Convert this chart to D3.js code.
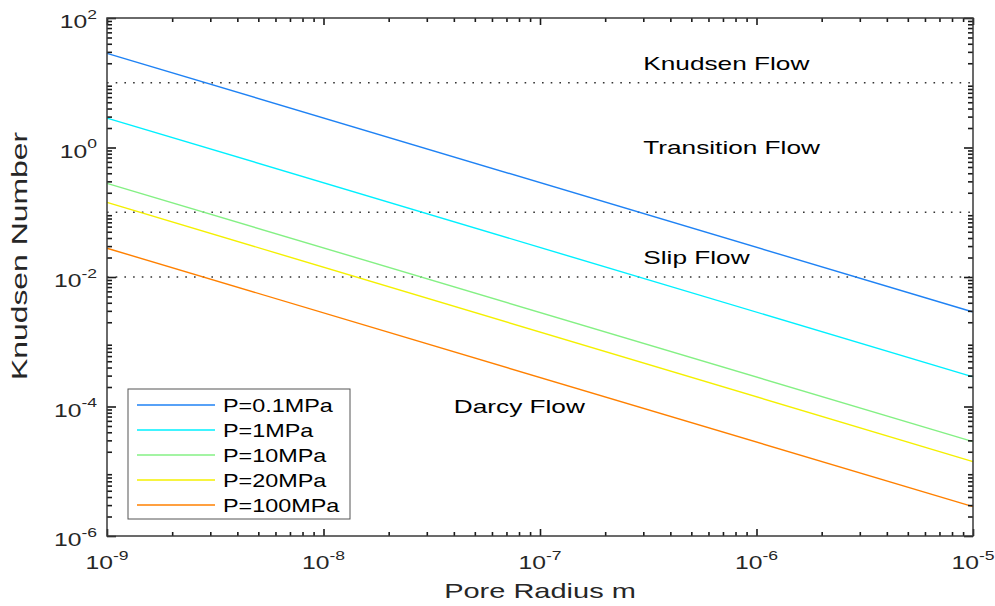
<!DOCTYPE html>
<html>
<head>
<meta charset="utf-8">
<script src="https://cdn.jsdelivr.net/npm/d3@7/dist/d3.min.js"></script>
<style>
  body { margin: 0; background: #fff; }
  text { font-family: "Liberation Sans", Arial, Helvetica, sans-serif; fill: #262626; }
</style>
</head>
<body>
<svg id="chart" width="995" height="606"></svg>
<script>
// Knudsen number vs pore radius for several gas pressures (log-log)
const seriesNames   = ["P=0.1MPa", "P=1MPa", "P=10MPa", "P=20MPa", "P=100MPa"];
const seriesColors  = ["#1f82f4", "#00f0ff", "#84f084", "#f4f000", "#ff8000"];
const radiusEnds    = [1e-9, 1e-5];                          // pore radius, m
const knAtSmallR    = [28.5, 2.85, 0.28, 0.142, 0.0278];      // Kn at r = 1e-9 m
const knAtLargeR    = [2.88e-3, 2.87e-4, 2.86e-5, 1.41e-5, 2.84e-6]; // Kn at r = 1e-5 m

// flow regime boundaries and labels
const regimeBounds  = [10, 0.1, 0.01];
const regimeNames   = ["Knudsen Flow", "Transition Flow", "Slip Flow", "Darcy Flow"];
const regimeLabelR  = [3e-7, 3e-7, 3e-7, 4e-8];
const regimeLabelKn = [20, 1, 0.02, 1e-4];

// axis ticks
const xMajorTicks = [1e-9, 1e-8, 1e-7, 1e-6, 1e-5];
const xTickExps   = ["-9", "-8", "-7", "-6", "-5"];
const yMajorTicks = [1e2, 1e0, 1e-2, 1e-4, 1e-6];
const yTickExps   = ["2", "0", "-2", "-4", "-6"];
const xLabel = "Pore Radius m";
const yLabel = "Knudsen Number";

const svg = d3.select("#chart");
const plot = { left: 107, right: 973, top: 18, bottom: 536 };

const x = d3.scaleLog().domain([1e-9, 1e-5]).range([plot.left, plot.right]);
const y = d3.scaleLog().domain([1e-6, 1e2]).range([plot.bottom, plot.top]);

// minor ticks: 2..9 within each decade
function minorTicks(lo, hi) {
  const out = [];
  for (let e = Math.round(Math.log10(lo)); e < Math.round(Math.log10(hi)); e++)
    for (let m = 2; m <= 9; m++) out.push(m * Math.pow(10, e));
  return out;
}
const xMinor = minorTicks(1e-9, 1e-5);
const yMinor = minorTicks(1e-6, 1e2);

// regime boundary lines (dotted)
svg.append("g").selectAll("line").data(regimeBounds).join("line")
  .attr("x1", plot.left).attr("x2", plot.right)
  .attr("y1", d => y(d)).attr("y2", d => y(d))
  .attr("stroke", "#333").attr("stroke-width", 1.3)
  .attr("stroke-dasharray", "1.6,7.1");

// data lines
const lineGen = d3.line().x(d => x(d[0])).y(d => y(d[1]));
svg.append("g").selectAll("path").data(seriesNames).join("path")
  .attr("d", (d, i) => lineGen([[radiusEnds[0], knAtSmallR[i]], [radiusEnds[1], knAtLargeR[i]]]))
  .attr("fill", "none")
  .attr("stroke", (d, i) => seriesColors[i])
  .attr("stroke-width", 1.4);

// axes with inward ticks on all four sides
function drawAxis(axisFn, scale, ticks, size, transform) {
  const g = svg.append("g").attr("transform", transform)
    .call(axisFn(scale).tickValues(ticks).tickSize(size).tickFormat(""));
  g.select(".domain").remove();
  g.selectAll(".tick line").attr("stroke", "#1a1a1a").attr("stroke-width", 1.6);
  return g;
}
drawAxis(d3.axisBottom, x, xMajorTicks, -7, `translate(0,${plot.bottom})`);
drawAxis(d3.axisBottom, x, xMinor, -4, `translate(0,${plot.bottom})`);
drawAxis(d3.axisTop, x, xMajorTicks, -7, `translate(0,${plot.top})`);
drawAxis(d3.axisTop, x, xMinor, -4, `translate(0,${plot.top})`);
drawAxis(d3.axisLeft, y, yMajorTicks, -9, `translate(${plot.left},0)`);
drawAxis(d3.axisLeft, y, yMinor, -5, `translate(${plot.left},0)`);
drawAxis(d3.axisRight, y, yMajorTicks, -9, `translate(${plot.right},0)`);
drawAxis(d3.axisRight, y, yMinor, -5, `translate(${plot.right},0)`);

// frame
svg.append("rect")
  .attr("x", plot.left).attr("y", plot.top)
  .attr("width", plot.right - plot.left).attr("height", plot.bottom - plot.top)
  .attr("fill", "none").attr("stroke", "#3a3a3a").attr("stroke-width", 1.5);

// power-of-ten tick label
function powerLabel(g, px, py, exp, anchor, sx) {
  const t = g.append("text")
    .attr("transform", `translate(${px},${py}) scale(${sx},1)`)
    .attr("text-anchor", anchor)
    .style("font-size", "19px");
  t.append("tspan").text("10");
  t.append("tspan").attr("dy", -9.5).style("font-size", "13.5px").text(exp);
}
const xl = svg.append("g");
xMajorTicks.forEach((v, i) => powerLabel(xl, x(v), 569, xTickExps[i], "middle", 1.3));
const yl = svg.append("g");
yMajorTicks.forEach((v, i) => powerLabel(yl, 97, y(v) + 10.3, yTickExps[i], "end", 1.3));

// axis titles
svg.append("text")
  .attr("transform", `translate(${(plot.left + plot.right) / 2},598) scale(1.45,1)`)
  .attr("text-anchor", "middle").style("font-size", "20px").text(xLabel);
svg.append("text")
  .attr("transform", `translate(27,256) rotate(-90) scale(1.45,1)`)
  .attr("text-anchor", "middle").style("font-size", "22px").text(yLabel);

// regime labels
svg.append("g").selectAll("text").data(regimeNames).join("text")
  .attr("transform", (d, i) => `translate(${x(regimeLabelR[i])},${y(regimeLabelKn[i]) + 6.8}) scale(1.38,1)`)
  .style("font-size", "19px").style("fill", "#000")
  .text(d => d);

// legend
const legend = svg.append("g");
legend.append("rect")
  .attr("x", 128).attr("y", 389).attr("width", 222).attr("height", 130)
  .attr("fill", "#fff").attr("stroke", "#555").attr("stroke-width", 1);
const items = legend.selectAll("g.item").data(seriesNames).join("g")
  .attr("class", "item")
  .attr("transform", (d, i) => `translate(0,${405 + i * 25})`);
items.append("line")
  .attr("x1", 137).attr("x2", 215).attr("y1", 0).attr("y2", 0)
  .attr("stroke", (d, i) => seriesColors[i]).attr("stroke-width", 1.4);
items.append("text")
  .attr("transform", "translate(223,6.5) scale(1.3,1)")
  .style("font-size", "18px").style("fill", "#000")
  .text(d => d);
</script>
</body>
</html>
